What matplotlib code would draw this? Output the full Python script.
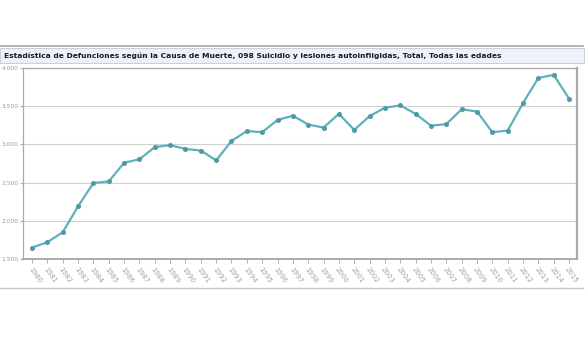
import matplotlib.pyplot as plt
from matplotlib.patches import Rectangle
from matplotlib.lines import Line2D

# Data
years = list(range(1980, 2016))
deaths = [1650, 1720, 1850, 2190, 2495, 2515, 2760, 2805, 2965, 2990,
          2940, 2920, 2790, 3045, 3175, 3160, 3320, 3375, 3260, 3220,
          3400, 3190, 3370, 3480, 3510, 3400, 3245, 3265, 3460, 3430,
          3160, 3180, 3540, 3870, 3910, 3600]
y_ticks = [1500, 2000, 2500, 3000, 3500, 4000]
y_labels = ['1.500', '2.000', '2.500', '3.000', '3.500', '4.000']

title = ('Estadística de Defunciones según la Causa de Muerte, 098 Suicidio y '
         'lesiones autoinfligidas, Total, Todas las edades')

W, H = 588, 353
fig = plt.figure(figsize=(W / 100, H / 100), dpi=100)

def fy(py):
    return 1 - py / H

# separator lines and title bar
fig.add_artist(Line2D([0, 583 / W], [fy(46), fy(46)], color='#a8a8a8', lw=1.2))
fig.add_artist(Line2D([0, 583 / W], [fy(288), fy(288)], color='#c8c8c8', lw=1.0))
fig.add_artist(Rectangle((0, fy(63)), 584 / W, 15 / H, facecolor='#eef1f8',
                         edgecolor='#c9cfdc', lw=0.8))
fig.text(4 / W, fy(55.5), title, fontsize=5.4, fontweight='bold',
         color='#1a1a1a', va='center', ha='left')

ax = fig.add_axes([23 / W, fy(259), (577 - 23) / W, (259 - 68) / H])
ax.plot(years, deaths, color='#5fb0bd', lw=1.6, marker='o', markersize=2.6,
        markerfacecolor='#4f9aa6', markeredgecolor='#4f9aa6', zorder=3)

ax.set_xlim(1979.41, 2015.52)
ax.set_ylim(1500, 4000)
ax.set_yticks(y_ticks)
ax.set_yticklabels(y_labels)
ax.set_xticks(years)
ax.set_xticklabels([str(y) for y in years], rotation=-55, ha='left', va='top',
                   rotation_mode='anchor')
ax.grid(axis='y', color='#d0d0d0', lw=0.8)
ax.tick_params(axis='x', labelsize=5, colors='#a0a0a0', length=3, width=0.6, pad=2)
ax.tick_params(axis='y', labelsize=4.3, colors='#999999', length=2.5, width=0.6, pad=0.8)
for name, sp in ax.spines.items():
    sp.set_color('#aaaaaa')
    sp.set_linewidth(0.9)
ax.spines['right'].set_linewidth(1.6)
ax.spines['bottom'].set_linewidth(1.4)

fig.savefig('out.png', dpi=100)
